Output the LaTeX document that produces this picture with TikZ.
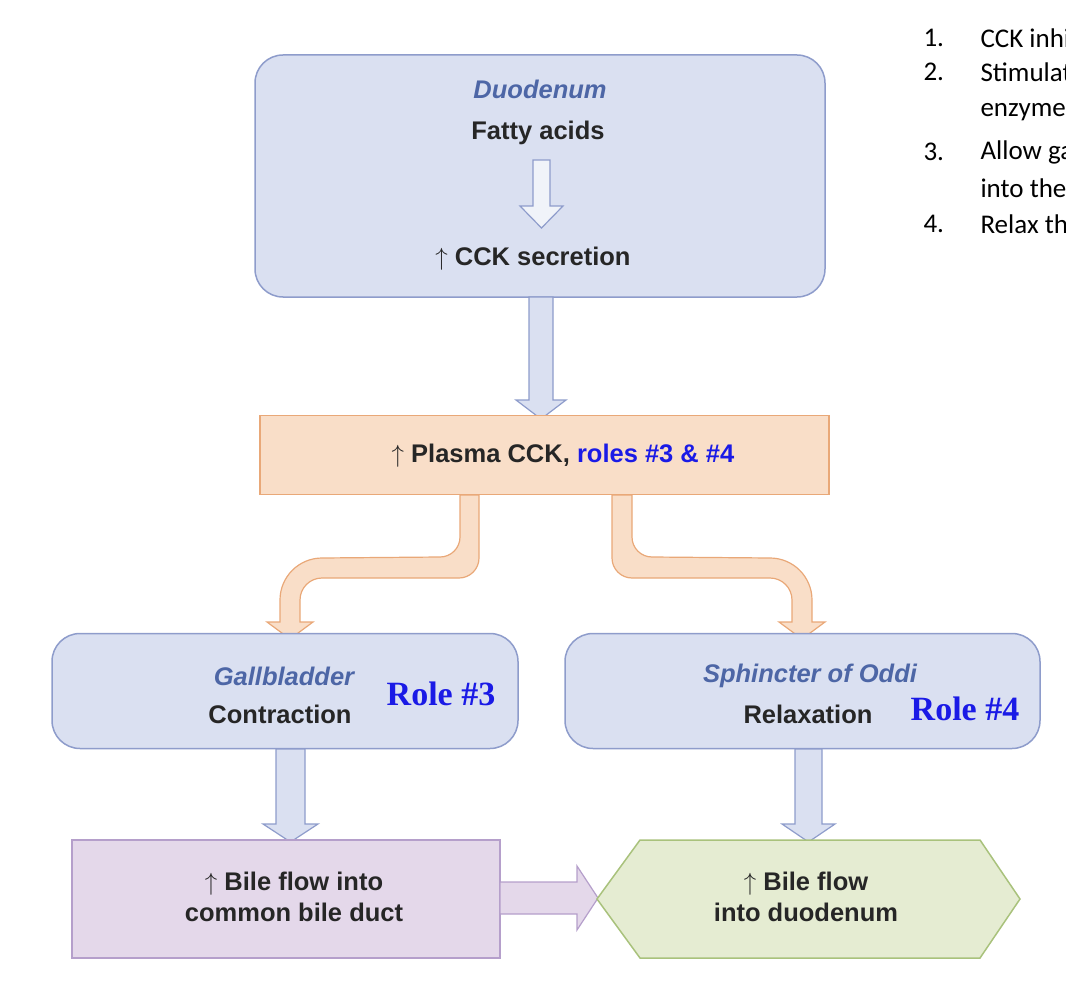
\documentclass[tikz,border=0pt]{standalone}
\usepackage{fontspec}
\setmainfont{Liberation Sans}
\newfontfamily\rolefont{Liberation Serif}
\newfontfamily\carfont{Carlito}
\begin{document}
\begin{tikzpicture}[x=1pt,y=-1pt,
  bluebox/.style={draw=bst,fill=bfill,line width=1.5pt,rounded corners=28pt},
  barrow/.style={draw=bst,fill=bfill,line width=1.2pt,line join=miter},
  oarrow/.style={draw=ost,fill=ofill,line width=1.2pt},
  lbl/.style={font=\fontsize{25.5}{31}\selectfont\bfseries,align=center,text=black!85},
  ital/.style={font=\fontsize{25.5}{30}\selectfont\bfseries\itshape,text=ititle},
  role/.style={font=\fontsize{34}{36}\selectfont\rolefont\bfseries,text=rblue},
  lst/.style={font=\fontsize{27}{30}\selectfont\carfont,anchor=west,text=black}]
\definecolor{bfill}{HTML}{DAE0F1}\definecolor{bst}{HTML}{8E9CCB}
\definecolor{ofill}{HTML}{F9DEC8}\definecolor{ost}{HTML}{E9A878}
\definecolor{ititle}{HTML}{4D66A6}\definecolor{rblue}{HTML}{1A1AE6}
\definecolor{pfill}{HTML}{E4D8EA}\definecolor{pst}{HTML}{B59FCB}
\definecolor{gfill}{HTML}{E5ECD2}\definecolor{gst}{HTML}{A9C27C}
\path[use as bounding box] (0,0) rectangle (1066,1006);
\begin{scope}
\clip (0,0) rectangle (1066,1006);
\foreach \i/\y/\t in {1/38/CCK inhibits, 2/72/Stimulates the, 3/152/Allow gallbladder, 4/224/Relax the}{
  \node[lst] (n\i) at (920,\y) {\i.};
  \node[lst] (t\i) at (977,\y) {\t};}
\node[lst] (e1) at (977,112) {enzymes};
\node[lst] (e2) at (977,188) {into the};
\end{scope}
% top box
\node[bluebox,minimum width=570pt,minimum height=242pt] (top) at (540,176) {};
\node[ital] (duo) at (540,89) {Duodenum};
\node[lbl] (fa) at (538,133) {Fatty acids};
\node[lbl] (cck) at (533,259) {$\uparrow$ CCK secretion};
\draw[bst,fill=bfill!40,line width=1.2pt] (533,160)--(550,160)--(550,206)--(563,206)--(541.5,228)--(520,206)--(533,206)--cycle;
% arrow top->plasma
\draw[barrow] (529,297)--(553,297)--(553,400)--(566,400)--(541,419)--(516,400)--(529,400)--cycle;
% plasma
\node[draw=ost,fill=ofill,line width=1.5pt,minimum width=569pt,minimum height=79pt] (pl) at (544.5,455) {};
\node[lbl] (plt) at (563,456) {$\uparrow$ Plasma CCK, \textcolor{rblue}{roles \#3 \& \#4}};
% curved arrows
\draw[oarrow] (460,495)--(479,495)--(479,558) arc (0:90:20) -- (322,578) arc(270:180:22)--(300,622)--(313,622)--(290,639)--(267,622)--(280,622)--(280,600) arc(180:270:42)--(440,557) arc(90:0:20)--cycle;
\draw[oarrow] (632,495)--(612,495)--(612,558) arc (180:90:20) -- (770,578) arc(270:360:22)--(792,622)--(779,622)--(802,639)--(825,622)--(812,622)--(812,600) arc(0:-90:42)--(652,557) arc(90:180:20)--cycle;
% mid boxes
\node[bluebox,minimum width=466pt,minimum height=115pt] (gb) at (285,691) {};
\node[ital] (gbt) at (284,676) {Gallbladder};
\node[lbl] (gbc) at (280,714) {Contraction};
\node[role] (r3) at (441,694) {Role \#3};
\node[bluebox,minimum width=475pt,minimum height=115pt] (so) at (802.5,691) {};
\node[ital] (sot) at (810,676) {Sphincter of Oddi};
\node[lbl] (sor) at (808,714) {Relaxation};
\node[role] (r4) at (965,709) {Role \#4};
% down arrows
\draw[barrow] (276,749)--(305,749)--(305,824)--(318,824)--(290.5,842)--(263,824)--(276,824)--cycle;
\draw[barrow] (795,749)--(822,749)--(822,824)--(835,824)--(808.5,842)--(782,824)--(795,824)--cycle;
% bottom
\node[draw=pst,fill=pfill,line width=1.5pt,minimum width=428pt,minimum height=118pt] (bile) at (286,899) {};
\node[lbl] (bilet) at (294,897) {$\uparrow$ Bile flow into\\common bile duct};
\draw[draw=pst,fill=pfill,line width=1.2pt] (500,882)--(577,882)--(577,866)--(598,898)--(577,930)--(577,914)--(500,914)--cycle;
\draw[draw=gst,fill=gfill,line width=1.5pt] (597,899)--(640,840)--(980,840)--(1020,899)--(980,958)--(640,958)--cycle;
\node[lbl] (duot) at (806,897) {$\uparrow$ Bile flow\\into duodenum};
\end{tikzpicture}
\end{document}
